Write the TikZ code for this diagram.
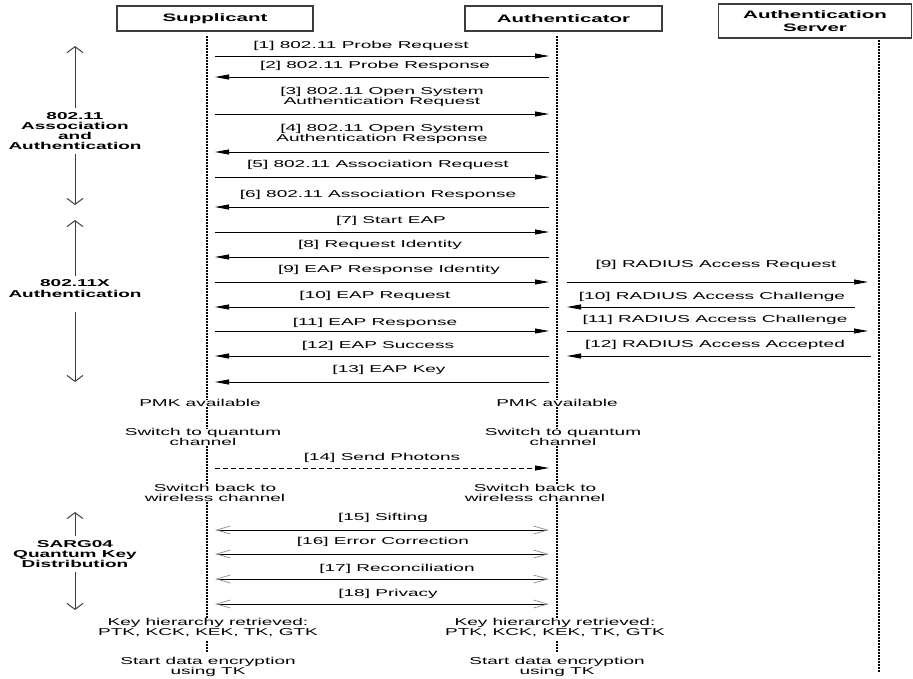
\documentclass[tikz,border=0pt]{standalone}
\usepackage{fontspec}
\setmainfont{Liberation Sans}[FakeStretch=1.9]
\usetikzlibrary{arrows.meta}

\definecolor{boxgray}{RGB}{60,60,60}
\definecolor{barbgray}{RGB}{150,150,150}

\begin{document}
\begin{tikzpicture}[x=1pt, y=-1pt,
    every node/.style={inner sep=0pt, align=center, font=\fontsize{10}{10}\selectfont},
    actor/.style={draw=boxgray, line width=1.2pt, font=\fontsize{10.8}{12.5}\selectfont\bfseries},
    phaselbl/.style={font=\fontsize{10}{10.2}\selectfont\bfseries},
    life/.style={line width=1.3pt, dash pattern=on 2pt off 1pt, shorten <=4pt, shorten >=4pt},
    msg/.style={line width=0.8pt, -{Triangle[length=14pt, width=5pt]}},
    photon/.style={msg, dash pattern=on 5pt off 3pt},
    qkd/.style={line width=0.8pt, {Straight Barb[length=14pt, width=8pt, color=barbgray]}-{Straight Barb[length=14pt, width=8pt, color=barbgray]}},
    phase/.style={line width=1pt, draw=boxgray, -{Straight Barb[length=6pt, width=16pt]}, shorten <=4pt}]
  \useasboundingbox (0,0) rectangle (913,678);

  % the three parties
  \node[actor, minimum width=196pt, minimum height=25pt] (sup) at (215,18.5) {Supplicant};
  \node[actor, minimum width=197pt, minimum height=25pt] (auth) at (563.5,18.5) {Authenticator};
  \node[actor, minimum width=193pt, minimum height=34pt] (srv) at (815,21) {Authentication\\Server};

  % notes on the supplicant side
  \node (sPMK) at (200,403) {PMK available};
  \node (sQ) at (203,437) {Switch to quantum\\channel};
  \node (sW) at (215,493) {Switch back to\\wireless channel};
  \node (sK) at (208,627.5) {Key hierarchy retrieved:\\PTK, KCK, KEK, TK, GTK};
  \node (sE) at (208,666.5) {Start data encryption\\using TK};
  % notes on the authenticator side
  \node (aPMK) at (557,403) {PMK available};
  \node (aQ) at (563,437) {Switch to quantum\\channel};
  \node (aW) at (535,493) {Switch back to\\wireless channel};
  \node (aK) at (555,627.5) {Key hierarchy retrieved:\\PTK, KCK, KEK, TK, GTK};
  \node (aE) at (557,666.5) {Start data encryption\\using TK};

  % lifelines, broken by the notes
  \coordinate (sT) at (207,36);
  \coordinate (aT) at (557,36);
  \coordinate (vT) at (879,36);
  \coordinate (vB) at (879,676);
  \draw[life] (sT) -- (sT |- sPMK.north) (sT |- sPMK.south) -- (sT |- sQ.north)
    (sT |- sQ.south) -- (sT |- sW.north) (sT |- sW.south) -- (sT |- sK.north)
    (sT |- sK.south) -- (sT |- sE.north);
  \draw[life] (aT) -- (aT |- aPMK.north) (aT |- aPMK.south) -- (aT |- aQ.north)
    (aT |- aQ.south) -- (aT |- aW.north) (aT |- aW.south) -- (aT |- aK.north)
    (aT |- aK.south) -- (aT |- aE.north);
  \draw[life] (vT) -- (vB);

  % ends of the messages
  \foreach \n/\y in {1/56, 2/77, 3/114, 4/152, 5/177, 6/207, 7/232, 8/257, 9/282,
      10/307, 11/331, 12/356, 13/382, 14/468, 15/530, 16/554, 17/579, 18/604} {
    \coordinate (s\n) at (215,\y);
    \coordinate (a\n) at (549,\y);
  }
  \coordinate (r9) at (567,282);   \coordinate (v9) at (868,282);
  \coordinate (r10) at (567,307);  \coordinate (v10) at (855,307);
  \coordinate (r11) at (567,331);  \coordinate (v11) at (868,331);
  \coordinate (r12) at (567,356);  \coordinate (v12) at (871,356);

  % 802.11 association and authentication
  \draw[msg] (s1) -- (a1);
  \node (t1) at (361,46) {[1] 802.11 Probe Request};
  \draw[msg] (a2) -- (s2);
  \node (t2) at (375,66) {[2] 802.11 Probe Response};
  \draw[msg] (s3) -- (a3);
  \node (t3) at (382,96.5) {[3] 802.11 Open System\\Authentication Request};
  \draw[msg] (a4) -- (s4);
  \node (t4) at (382,133.5) {[4] 802.11 Open System\\Authentication Response};
  \draw[msg] (s5) -- (a5);
  \node (t5) at (378,165) {[5] 802.11 Association Request};
  \draw[msg] (a6) -- (s6);
  \node (t6) at (378,195) {[6] 802.11 Association Response};

  % 802.1X / EAP
  \draw[msg] (s7) -- (a7);
  \node (t7) at (391,221) {[7] Start EAP};
  \draw[msg] (a8) -- (s8);
  \node (t8) at (380,245) {[8] Request Identity};
  \draw[msg] (s9) -- (a9);
  \node (t9) at (389,270) {[9] EAP Response Identity};
  \draw[msg] (a10) -- (s10);
  \node (t10) at (375,296) {[10] EAP Request};
  \draw[msg] (s11) -- (a11);
  \node (t11) at (375,323) {[11] EAP Response};
  \draw[msg] (a12) -- (s12);
  \node (t12) at (378,346) {[12] EAP Success};
  \draw[msg] (a13) -- (s13);
  \node (t13) at (389,370) {[13] EAP Key};

  % RADIUS exchange
  \draw[msg] (r9) -- (v9);
  \node (u9) at (716,265) {[9] RADIUS Access Request};
  \draw[msg] (v10) -- (r10);
  \node (u10) at (712,297) {[10] RADIUS Access Challenge};
  \draw[msg] (r11) -- (v11);
  \node (u11) at (715,320) {[11] RADIUS Access Challenge};
  \draw[msg] (v12) -- (r12);
  \node (u12) at (715,345) {[12] RADIUS Access Accepted};

  % quantum channel and SARG04
  \draw[photon] (s14) -- (a14);
  \node (t14) at (382,458) {[14] Send Photons};
  \draw[qkd] (s15) -- (a15);
  \node (t15) at (383,518) {[15] Sifting};
  \draw[qkd] (s16) -- (a16);
  \node (t16) at (383,542) {[16] Error Correction};
  \draw[qkd] (s17) -- (a17);
  \node (t17) at (397,569) {[17] Reconciliation};
  \draw[qkd] (s18) -- (a18);
  \node (t18) at (388,594) {[18] Privacy};

  % phases on the left
  \node[phaselbl] (ph1) at (75,131) {802.11\\Association\\and\\Authentication};
  \coordinate (ph1up) at (75,46);
  \coordinate (ph1dn) at (75,205);
  \draw[phase] (ph1.north) -- (ph1up);
  \draw[phase] (ph1.south) -- (ph1dn);
  \node[phaselbl] (ph2) at (75,288.5) {802.11X\\Authentication};
  \coordinate (ph2up) at (75,220);
  \coordinate (ph2dn) at (75,382);
  \draw[phase] (ph2.north) -- (ph2up);
  \draw[phase, shorten <=15pt] (ph2.south) -- (ph2dn);
  \node[phaselbl] (ph3) at (75,554) {SARG04\\Quantum Key\\Distribution};
  \coordinate (ph3up) at (75,512);
  \coordinate (ph3dn) at (75,610);
  \draw[phase] (ph3.north) -- (ph3up);
  \draw[phase] (ph3.south) -- (ph3dn);
\end{tikzpicture}
\end{document}
